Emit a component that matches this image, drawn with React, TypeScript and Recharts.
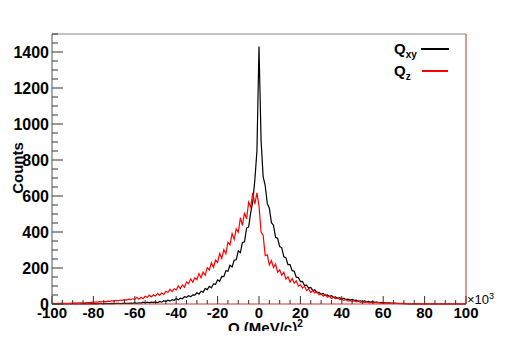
import { Label, Line, LineChart, ReferenceLine, XAxis, YAxis } from "recharts";

// bin centres, in units of 10^3 (MeV/c)^2
const bins = Array.from({ length: 201 }, (_, i) => i - 100);

// Q_xy counts, -100 .. 100
const qxyCounts = [
  0, 1, 0, 0, 1, 0, 1, 0, 1, 1,
  0, 1, 1, 0, 1, 1, 2, 1, 1, 2,
  1, 2, 1, 2, 2, 1, 3, 2, 2, 3,
  2, 3, 3, 2, 4, 3, 4, 3, 5, 4,
  7, 4, 7, 5, 10, 7, 10, 6, 10, 8,
  13, 7, 14, 10, 19, 14, 21, 16, 24, 21,
  30, 23, 33, 29, 41, 37, 46, 40, 51, 49,
  62, 55, 71, 66, 86, 80, 98, 90, 112, 109,
  134, 126, 153, 152, 185, 182, 215, 206, 244, 246,
  295, 285, 342, 346, 422, 428, 508, 570, 690, 850,
  1430,
  910, 708, 657, 559, 532, 452, 438, 370, 365, 319,
  312, 262, 257, 219, 219, 185, 182, 149, 147, 125,
  126, 103, 105, 88, 92, 76, 78, 63, 65, 55,
  59, 47, 50, 42, 46, 37, 40, 31, 35, 28,
  32, 24, 27, 22, 25, 20, 21, 15, 18, 14,
  17, 12, 14, 10, 13, 9, 11, 6, 9, 6,
  7, 5, 6, 4, 5, 3, 4, 2, 4, 2,
  2, 1, 2, 1, 1, 2, 1, 1, 0, 1,
  1, 0, 1, 0, 1, 0, 0, 1, 0, 0,
  0, 1, 0, 0, 0, 1, 0, 0, 0, 0,
];

// Q_z counts, -100 .. 100
const qzCounts = [
  2, 3, 2, 3, 3, 4, 3, 4, 4, 5,
  5, 6, 5, 6, 7, 6, 7, 8, 8, 9,
  10, 11, 10, 13, 12, 14, 13, 16, 15, 18,
  17, 20, 18, 22, 20, 24, 22, 27, 24, 29,
  26, 37, 27, 37, 29, 43, 37, 49, 39, 51,
  44, 59, 48, 62, 52, 71, 64, 82, 69, 85,
  78, 101, 85, 106, 93, 122, 113, 139, 121, 146,
  135, 169, 146, 177, 159, 202, 189, 229, 204, 244,
  231, 281, 253, 301, 279, 343, 329, 391, 359, 417,
  398, 479, 436, 508, 472, 566, 538, 618, 555, 618,
  545,
  400, 381, 269, 273, 217, 241, 203, 222, 177, 190,
  160, 176, 138, 151, 122, 141, 116, 129, 99, 107,
  88, 99, 74, 83, 64, 75, 61, 68, 51, 56,
  44, 53, 37, 43, 31, 38, 30, 34, 24, 28,
  20, 25, 16, 20, 13, 18, 12, 17, 9, 13,
  8, 13, 6, 9, 5, 9, 6, 9, 4, 6,
  4, 6, 3, 5, 2, 4, 2, 4, 1, 3,
  2, 1, 2, 1, 1, 1, 2, 1, 1, 1,
  1, 1, 0, 1, 1, 0, 1, 0, 1, 0,
  0, 1, 0, 0, 1, 0, 0, 0, 1, 0,
];

const xTicks = Array.from({ length: 41 }, (_, i) => -100 + i * 5);
const yTicks = Array.from({ length: 31 }, (_, i) => i * 50);

const FONT = '"Liberation Sans Narrow", "Liberation Sans", Arial, sans-serif';

const data = bins.map((q, i) => ({ q, qxy: qxyCounts[i], qz: qzCounts[i] }));

function XTick({ x, y, payload }: any) {
  const v = payload.value as number;
  const major = v % 20 === 0;
  return (
    <g>
      <line x1={x} x2={x} y1={y} y2={y - (major ? 8 : 4)} stroke="#333" />
      {major && (
        <text x={x} y={y + 14} textAnchor="middle" fontFamily={FONT} fontWeight="bold" fontSize={15} fill="#000">
          {v}
        </text>
      )}
    </g>
  );
}

function YTick({ x, y, payload }: any) {
  const v = payload.value as number;
  const major = v % 200 === 0;
  return (
    <g>
      <line x1={x} x2={x + (major ? 11 : 6)} y1={y} y2={y} stroke="#333" />
      {major && (
        <text x={x - 3} y={y} dy="0.36em" textAnchor="end" fontFamily={FONT} fontWeight="bold" fontSize={16} fill="#000">
          {v}
        </text>
      )}
    </g>
  );
}

// rotated y title: rotate(-90) maps (x, y) to (y, -x)
function CountsTitle() {
  return (
    <text x={-168} y={23} transform="rotate(-90)" textAnchor="middle" fontFamily={FONT} fontWeight="bold" fontSize={15} fill="#000">
      Counts
    </text>
  );
}

export default function App() {
  return (
    <div style={{ margin: -8 }}>
      <LineChart width={518} height={339} data={data} margin={{ top: 34, right: 52, bottom: 0, left: 0 }}>
        <XAxis
          dataKey="q"
          type="number"
          domain={[-100, 100]}
          ticks={xTicks}
          interval={0}
          tick={<XTick />}
          tickLine={false}
          tickSize={0}
          tickMargin={0}
          height={35}
          axisLine={{ stroke: "#d03030" }}
        />
        <YAxis
          type="number"
          domain={[0, 1500]}
          ticks={yTicks}
          interval={0}
          tick={<YTick />}
          tickLine={false}
          tickSize={0}
          tickMargin={0}
          width={52}
          axisLine={{ stroke: "#555" }}
        >
          <Label content={<CountsTitle />} />
        </YAxis>
        <ReferenceLine y={1500} stroke="#888" />
        <ReferenceLine x={100} stroke="#c03030" />
        <Line type="linear" dataKey="qxy" stroke="#000" strokeWidth={1.2} dot={false} isAnimationActive={false} />
        <Line type="linear" dataKey="qz" stroke="#ff0000" strokeWidth={1.2} dot={false} isAnimationActive={false} />

        <text x={228} y={333} fontFamily={FONT} fontWeight="bold" fontSize={15}>
          Q (MeV/c)<tspan fontSize={10} dy={-6}>2</tspan>
        </text>
        <text x={467} y={304} fontFamily={FONT} fontSize={13}>
          ×10<tspan fontSize={9} dy={-5}>3</tspan>
        </text>

        {/* legend */}
        <text x={394} y={54} fontFamily={FONT} fontWeight="bold" fontSize={15}>
          Q<tspan fontSize={10} dy={4}>xy</tspan>
        </text>
        <line x1={421} x2={449} y1={49} y2={49} stroke="#000" strokeWidth={2} />
        <text x={394} y={76} fontFamily={FONT} fontWeight="bold" fontSize={15}>
          Q<tspan fontSize={10} dy={4}>z</tspan>
        </text>
        <line x1={422} x2={448} y1={71} y2={71} stroke="#ff0000" strokeWidth={2} />
      </LineChart>
    </div>
  );
}
